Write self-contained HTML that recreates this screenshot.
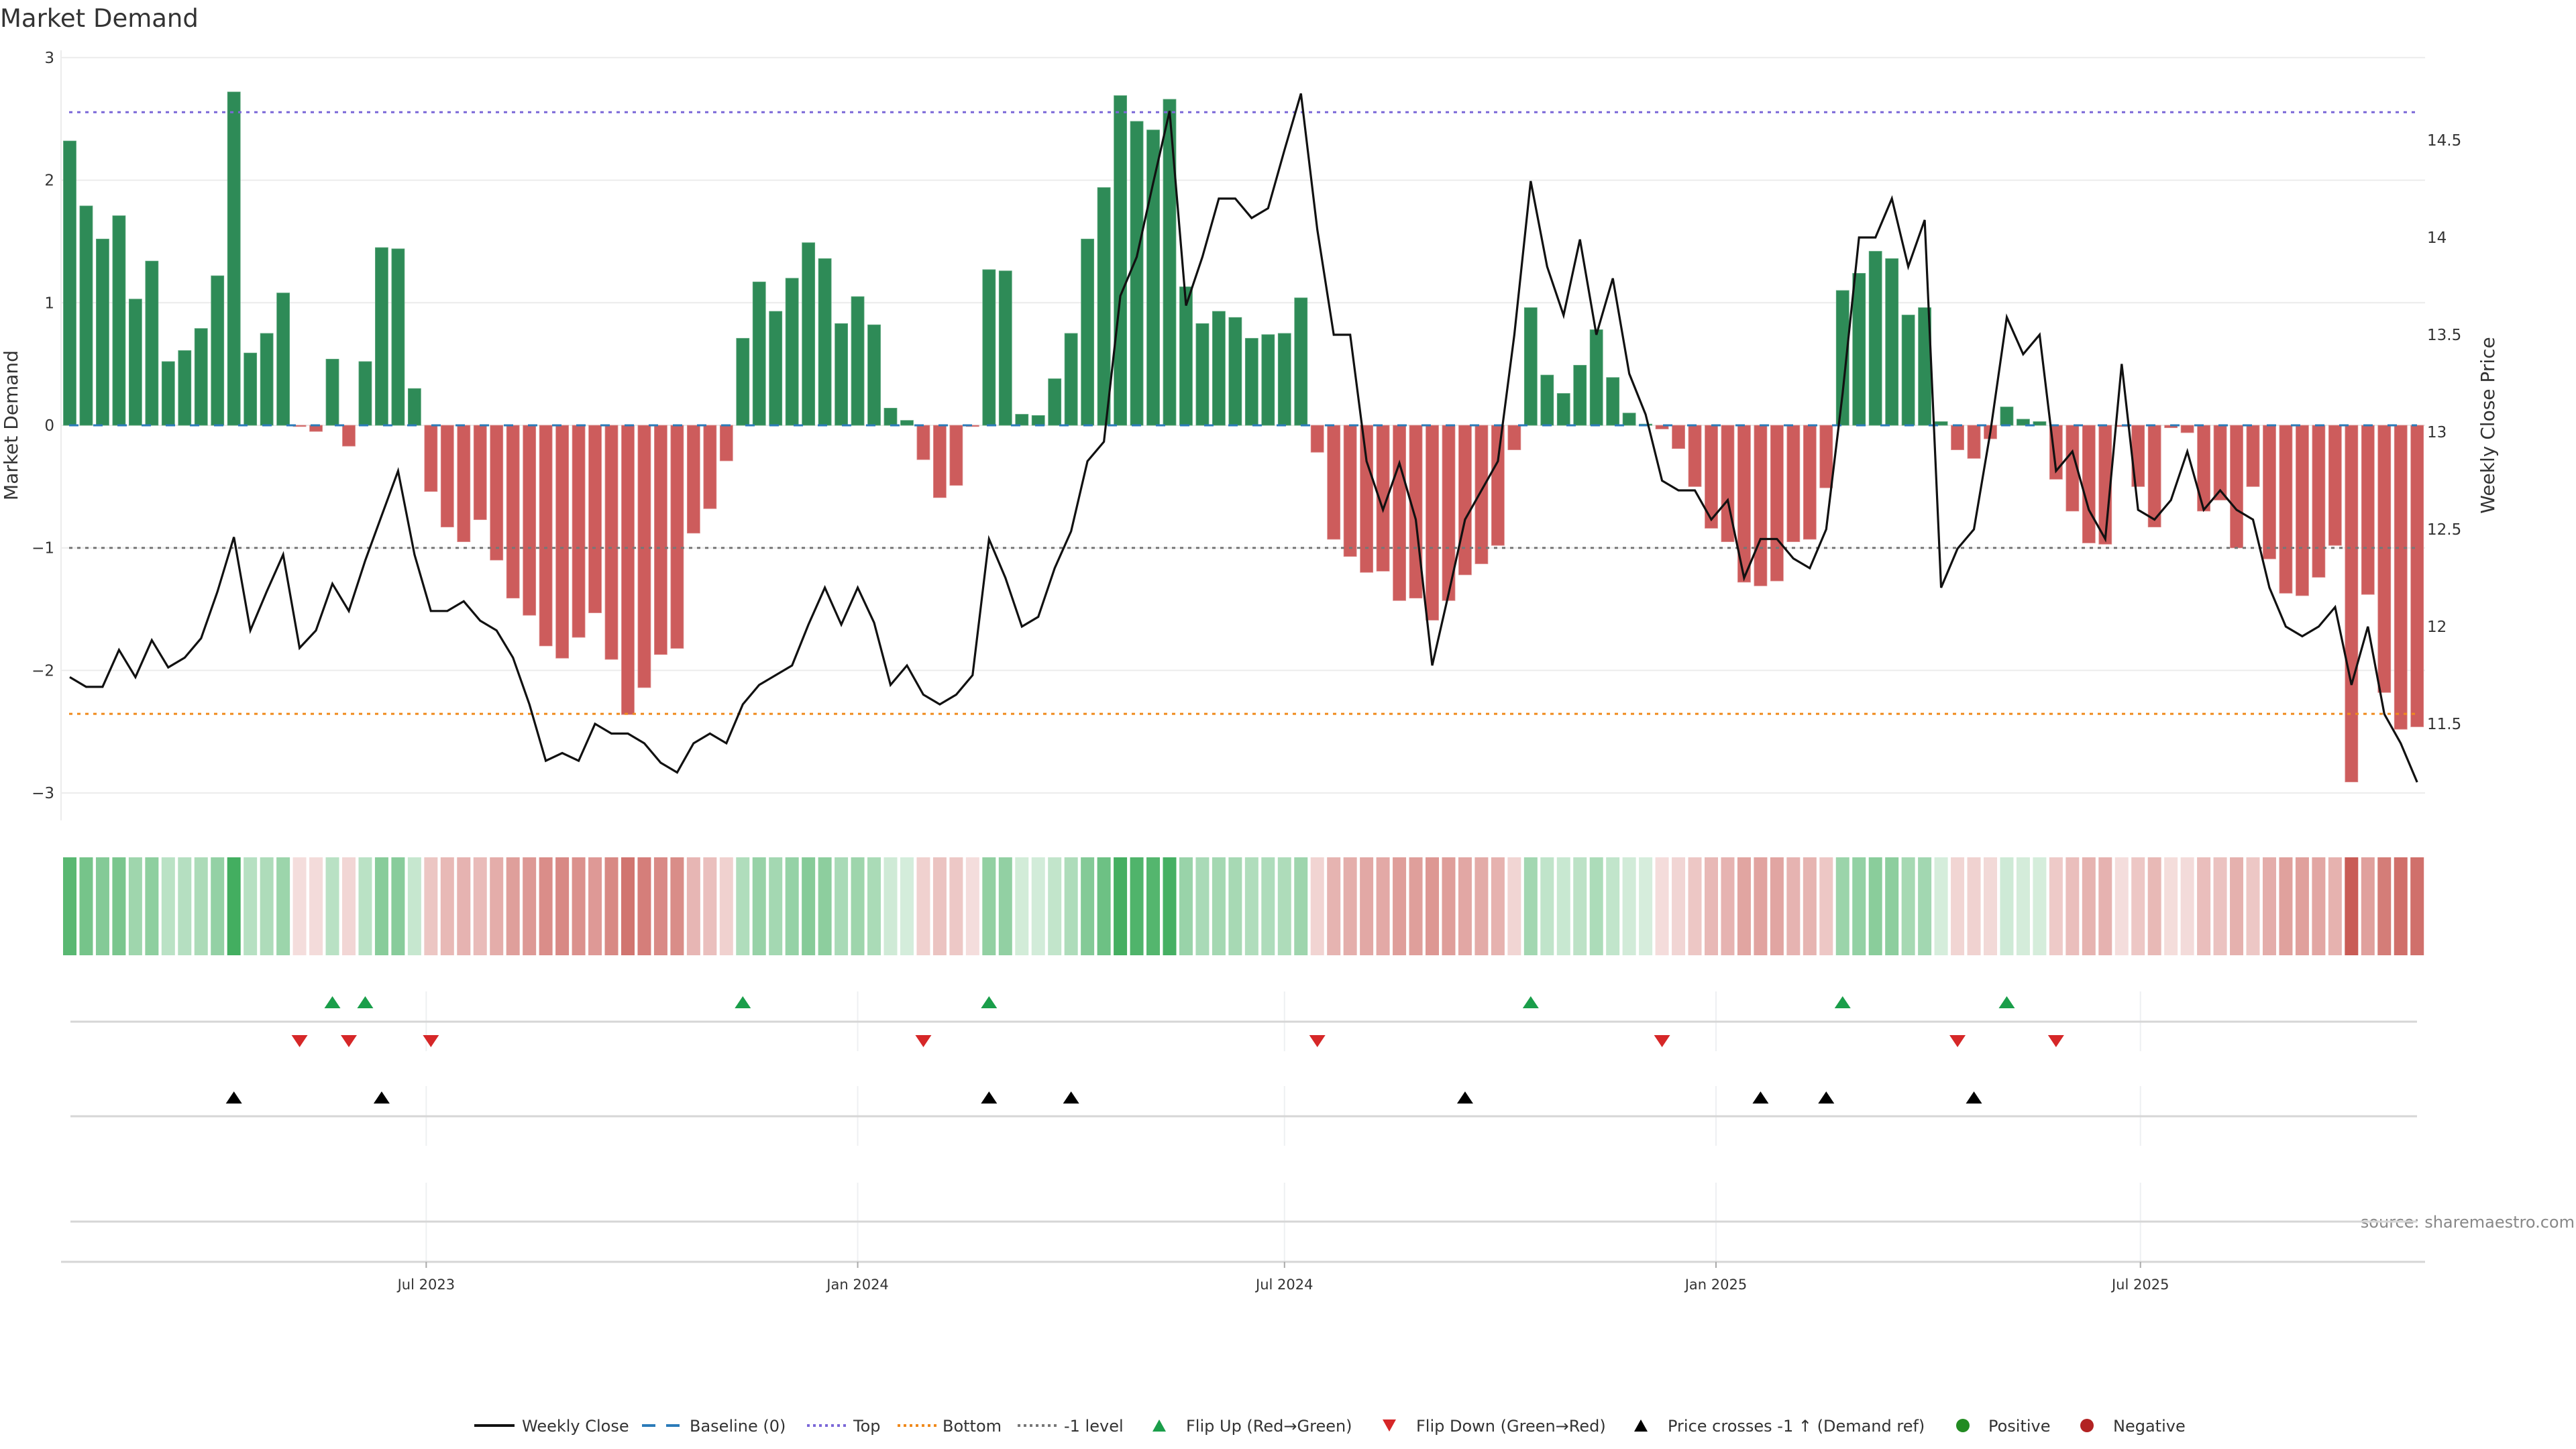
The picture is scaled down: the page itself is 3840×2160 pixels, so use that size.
<!DOCTYPE html>
<html><head><meta charset="utf-8"><title>Market Demand</title>
<style>
html,body{margin:0;padding:0;background:#fff;}
svg{display:block;font-family:"DejaVu Sans","Liberation Sans",sans-serif;}
</style></head>
<body>
<svg id="chart" width="3840" height="2160" viewBox="0 0 3840 2160" xmlns="http://www.w3.org/2000/svg">
<text x="0" y="40" font-size="37" fill="#333">Market Demand</text>
<text transform="translate(26,634) rotate(-90)" text-anchor="middle" font-size="28" fill="#333">Market Demand</text>
<text transform="translate(3718,634) rotate(-90)" text-anchor="middle" font-size="28" fill="#333">Weekly Close Price</text>
<text x="3838" y="1830" text-anchor="end" font-size="24" fill="#888">source: sharemaestro.com</text>
<g id="grid"></g><g id="panels"></g><g id="bars"></g><g id="refs"></g><g id="line"></g><g id="heat"></g><g id="marks"></g><g id="axes"></g><g id="legend"></g>
</svg>
<script>
const demand = [2.32,1.79,1.52,1.71,1.03,1.34,0.52,0.61,0.79,1.22,2.72,0.59,0.75,1.08,-0.01,-0.05,0.54,-0.17,0.52,1.45,1.44,0.30,-0.54,-0.83,-0.95,-0.77,-1.10,-1.41,-1.55,-1.80,-1.90,-1.73,-1.53,-1.91,-2.36,-2.14,-1.87,-1.82,-0.88,-0.68,-0.29,0.71,1.17,0.93,1.20,1.49,1.36,0.83,1.05,0.82,0.14,0.04,-0.28,-0.59,-0.49,-0.01,1.27,1.26,0.09,0.08,0.38,0.75,1.52,1.94,2.69,2.48,2.41,2.66,1.13,0.83,0.93,0.88,0.71,0.74,0.75,1.04,-0.22,-0.93,-1.07,-1.20,-1.19,-1.43,-1.41,-1.59,-1.43,-1.22,-1.13,-0.98,-0.20,0.96,0.41,0.26,0.49,0.78,0.39,0.10,0.01,-0.03,-0.19,-0.50,-0.84,-0.95,-1.28,-1.31,-1.27,-0.95,-0.93,-0.51,1.10,1.24,1.42,1.36,0.90,0.96,0.03,-0.20,-0.27,-0.11,0.15,0.05,0.03,-0.44,-0.70,-0.96,-0.97,-0.01,-0.50,-0.83,-0.02,-0.06,-0.70,-0.61,-1.00,-0.50,-1.09,-1.37,-1.39,-1.24,-0.98,-2.91,-1.38,-2.18,-2.48,-2.46];
const closePrice = [11.74,11.69,11.69,11.88,11.74,11.93,11.79,11.84,11.94,12.18,12.46,11.98,12.18,12.37,11.89,11.98,12.22,12.08,12.34,12.57,12.80,12.37,12.08,12.08,12.13,12.03,11.98,11.84,11.60,11.31,11.35,11.31,11.50,11.45,11.45,11.40,11.30,11.25,11.40,11.45,11.40,11.60,11.70,11.75,11.80,12.01,12.20,12.01,12.20,12.02,11.70,11.80,11.65,11.60,11.65,11.75,12.45,12.25,12.00,12.05,12.30,12.49,12.85,12.95,13.70,13.90,14.28,14.65,13.65,13.90,14.20,14.20,14.10,14.15,14.45,14.74,14.04,13.50,13.50,12.85,12.60,12.84,12.55,11.80,12.17,12.55,12.70,12.85,13.50,14.29,13.85,13.60,13.99,13.50,13.79,13.30,13.09,12.75,12.70,12.70,12.55,12.65,12.25,12.45,12.45,12.35,12.30,12.50,13.20,14.00,14.00,14.20,13.85,14.09,12.20,12.40,12.50,13.00,13.59,13.40,13.50,12.80,12.90,12.60,12.45,13.35,12.60,12.55,12.65,12.90,12.60,12.70,12.60,12.55,12.20,12.00,11.95,12.00,12.10,11.70,12.00,11.55,11.40,11.20];
const flipUpIdx = [17,19,42,57,90,109,119];
const flipDownIdx = [15,18,23,53,77,98,116,122];
const priceCrossIdx = [11,20,57,62,86,104,108,117];
const leftTicks = [-3,-2,-1,0,1,2,3];
const rightTicks = [11.5,12,12.5,13,13.5,14,14.5];
const dateTicks = ["2023-07-01","2024-01-01","2024-07-01","2025-01-01","2025-07-01"];
const dateTickLabels = ["Jul 2023","Jan 2024","Jul 2024","Jan 2025","Jul 2025"];
const topLevel = 2.555, bottomLevel = -2.354, minusOneLevel = -1;
const startDate = "2023-01-30";

const NS="http://www.w3.org/2000/svg";
function mk(tag, attrs, parent){const e=document.createElementNS(NS,tag);for(const k in attrs)e.setAttribute(k,attrs[k]);document.getElementById(parent).appendChild(e);return e;}
const X0=104, PITCH=24.47, PL=91, PR=3615;
function xi(i){return X0+PITCH*i;}
function yL(v){return 634-182.7*v;}
function yR(p){return 644-290*(p-13);}
function xDate(s){const d=(Date.parse(s)-Date.parse(startDate))/86400000;return X0+d/7*PITCH;}

// grid
leftTicks.forEach(t=>{
  const g=mk('line',{x1:PL,x2:PR,y1:yL(t),y2:yL(t),stroke:'#ececec','stroke-width':2},'grid');
  
  
  const tx=mk('text',{x:PL-10,y:yL(t)+8,'text-anchor':'end','font-size':23,fill:'#333'},'axes');
  tx.textContent=(t<0?'\u2212'+Math.abs(t):String(t));
  
  
});
mk('line',{x1:PL,x2:PL,y1:75,y2:1223,stroke:'#ececec','stroke-width':2},'grid');
rightTicks.forEach(t=>{
  const tx=mk('text',{x:3618,y:yR(t)+8,'font-size':23,fill:'#333'},'axes');
  tx.textContent=String(t);
  
  
});

// lower panels
[[1478,1567],[1619,1708],[1763,1881]].forEach(r=>{
  dateTicks.forEach(d=>{
    const l=mk('line',{x1:xDate(d),x2:xDate(d),y1:r[0],y2:r[1],stroke:'#eef0f2','stroke-width':2},'panels');
    
    
  });
});
[1523,1664,1821].forEach(y=>{
  const l=mk('line',{x1:105,x2:3603,y1:y,y2:y,stroke:'#d6d6d6','stroke-width':3},'panels');
  
  
});
const xa=mk('line',{x1:PL,x2:PR,y1:1881,y2:1881,stroke:'#d6d6d6','stroke-width':3},'axes');


dateTicks.forEach((d,k)=>{
  const t=mk('line',{x1:xDate(d),x2:xDate(d),y1:1881,y2:1890,stroke:'#aaa','stroke-width':2},'axes');
  
  
  const tx=mk('text',{x:xDate(d),y:1922,'text-anchor':'middle','font-size':21,fill:'#333'},'axes');
  tx.textContent=dateTickLabels[k];
  
  
});

// bars
demand.forEach((v,i)=>{
  const y0=yL(0),y1=yL(v);
  const r=mk('rect',{x:xi(i)-9.5,y:Math.min(y0,y1),width:19,height:Math.max(1,Math.abs(y1-y0)),fill:v>=0?'#2e8b57':'#cd5c5c',stroke:v>=0?'#5aa57a':'#dc8a8a','stroke-width':0.8},'bars');
  
  
});

// reference lines
const refs=[[0,'#2b7bb9','14,22',3,'baseline-line'],[topLevel,'#7b68d8','5,7',3,'top-line'],[bottomLevel,'#f08a1c','5,7',3,'bottom-line'],[minusOneLevel,'#777','5,7',3,'minus-one-line']];
refs.forEach(r=>{
  const l=mk('line',{x1:PL+12,x2:3603,y1:yL(r[0]),y2:yL(r[0]),stroke:r[1],'stroke-dasharray':r[2],'stroke-width':r[3]},'refs');
  
  
});

// price line
const pts=closePrice.map((p,i)=>xi(i).toFixed(1)+','+yR(p).toFixed(1)).join(' ');
const pl=mk('polyline',{points:pts,fill:'none',stroke:'#111','stroke-width':3.2,'stroke-linejoin':'miter'},'line');



// heat strip
const maxAbs=3;
demand.forEach((v,i)=>{
  const a=0.2+0.8*Math.min(1,Math.abs(v)/maxAbs);
  const c=v>=0?[52,168,83]:[200,88,82];
  const col=c.map(ch=>Math.round(255-(255-ch)*a));
  const r=mk('rect',{x:xi(i)-10,y:1278,width:20,height:146,fill:'rgb('+col.join(',')+')'},'heat');
  
  
});

// markers
function tri(x,y,up,color,name){
  const p=up?[[x-12,y+9],[x+12,y+9],[x,y-9]]:[[x-12,y-9],[x+12,y-9],[x,y+9]];
  const t=mk('polygon',{points:p.map(q=>q.join(',')).join(' '),fill:color},'marks');
  
  
}
flipUpIdx.forEach(n=>tri(xi(n-1),1494,true,'#1a9e4a','flip-up-marker'));
flipDownIdx.forEach(n=>tri(xi(n-1),1552,false,'#d62728','flip-down-marker'));
priceCrossIdx.forEach(n=>tri(xi(n-1),1636,true,'#000','price-cross-marker'));

// legend
const LY=2125;
function ltext(x,s,name){const t=mk('text',{x:x,y:LY+9,'font-size':24,fill:'#333'},'legend');t.textContent=s;}
function lline(x,color,dash,w,name){const l=mk('line',{x1:x,x2:x+60,y1:LY,y2:LY,stroke:color,'stroke-width':w,'stroke-dasharray':dash},'legend');}
lline(707,'#111','none',4,'legend-weekly-close-swatch'); ltext(778,'Weekly Close','legend-weekly-close');
lline(957,'#2b7bb9','20,16',4,'legend-baseline-swatch'); ltext(1028,'Baseline (0)','legend-baseline');
lline(1203,'#7b68d8','4,5',4,'legend-top-swatch'); ltext(1272,'Top','legend-top');
lline(1338,'#f08a1c','4,5',4,'legend-bottom-swatch'); ltext(1405,'Bottom','legend-bottom');
lline(1517,'#777','4,5',4,'legend-minus-one-swatch'); ltext(1586,'-1 level','legend-minus-one');
function ltri(x,up,color,name){const p=up?[[x-10,LY+9],[x+10,LY+9],[x,LY-9]]:[[x-10,LY-9],[x+10,LY-9],[x,LY+9]];const t=mk('polygon',{points:p.map(q=>q.join(',')).join(' '),fill:color},'legend');}
ltri(1728,true,'#1a9e4a','legend-flip-up-marker'); ltext(1768,'Flip Up (Red\u2192Green)','legend-flip-up');
ltri(2071,false,'#d62728','legend-flip-down-marker'); ltext(2111,'Flip Down (Green\u2192Red)','legend-flip-down');
ltri(2446,true,'#000','legend-price-cross-marker'); ltext(2486,'Price crosses -1 \u2191 (Demand ref)','legend-price-cross');
function lcirc(x,color,name){const c=mk('circle',{cx:x,cy:LY,r:10,fill:color},'legend');}
lcirc(2926,'#228b22','legend-positive-marker'); ltext(2964,'Positive','legend-positive');
lcirc(3111,'#b22222','legend-negative-marker'); ltext(3150,'Negative','legend-negative');
</script>
</body></html>
